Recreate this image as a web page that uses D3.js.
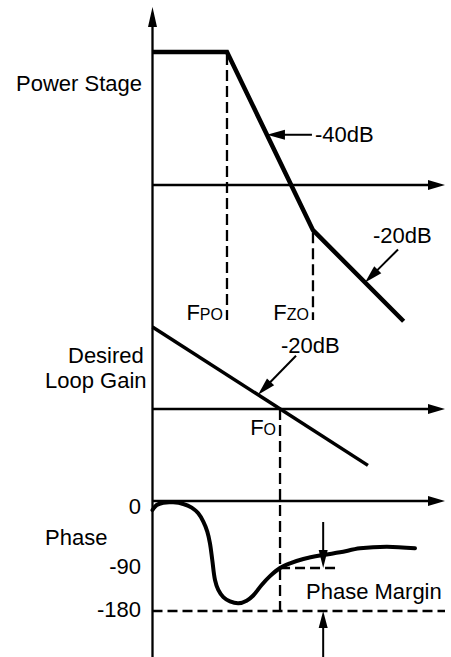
<!DOCTYPE html>
<html>
<head>
<meta charset="utf-8">
<script src="https://cdn.jsdelivr.net/npm/d3@7/dist/d3.min.js"></script>
<style>
  html, body { margin: 0; padding: 0; background: #fff; }
  svg { display: block; }
  text { font-family: "Liberation Sans", Arial, sans-serif; fill: #000; }
</style>
</head>
<body>
<svg id="chart" width="451" height="657"></svg>
<script>
// Frequency axis (log), shared by all three panels
const freqDomain = [1, 5000];

// Power stage magnitude (dB): flat, -40dB/dec after FPO, -20dB/dec after FZO
const powerFreq = [1, 8.75, 107, 1500];
const powerGain = [32.4, 32.4, -11.0, -33.2];

// Desired loop gain (dB): -20dB/dec crossing 0 dB at FO
const loopFreq = [1, 530];
const loopGain = [32.3, -22.2];

// Loop phase (degrees)
const phaseFreq = [1, 1.13, 1.37, 1.83, 2.45, 3.13, 3.79, 4.39, 4.93, 5.33, 5.70, 6.17, 6.79, 7.86,
                   9.55, 12.2, 15.5, 18.8, 24.0, 30.6, 41, 54.8, 80.8, 144, 235, 421, 916, 2086];
const phaseDeg  = [-3, 4.5, 8, 8.5, 6, 0.5, -8, -20.5, -35.5, -53, -78, -115, -136, -151,
                   -160, -164, -158.5, -147.5, -125.5, -107, -90, -83, -76.5, -70.5, -66.5, -60.5, -58, -60.5];

// Corner / crossover frequencies
const cornerFreqs  = [8.75, 107, 41];
const cornerSubs   = ["PO", "ZO", "O"];

// Phase axis ticks
const phaseTicks      = [0, -90, -180];
const phaseTickLabels = ["0", "-90", "-180"];

// Slope callouts: label, frequency where the arrow touches the curve
const slopeLabels = ["-40dB", "-20dB", "-20dB"];
const slopeFreqs  = [28, 487, 21.6];

// Phase margin marker
const pmFreq = 144;
const pmEndFreq = 235;

const svg = d3.select("#chart");

const x = d3.scaleLog().domain(freqDomain).range([152.5, 445]);
const yPow  = d3.scaleLinear().domain([0, 32.4]).range([185, 52]);
const yLoop = d3.scaleLinear().domain([0, 32.3]).range([409, 327]);
const yPh   = d3.scaleLinear().domain([0, -90, -180]).range([508, 568, 611]);
const phaseAxisY = 501;

const FS = 22;

// value on a piecewise (log-frequency) line
function interpLog(fs, vs, f) {
  for (let i = 0; i < fs.length - 1; i++) {
    if (f >= fs[i] && f <= fs[i + 1]) {
      const t = (Math.log(f) - Math.log(fs[i])) / (Math.log(fs[i + 1]) - Math.log(fs[i]));
      return vs[i] + t * (vs[i + 1] - vs[i]);
    }
  }
  return vs[vs.length - 1];
}

// line with filled triangular head at (x2,y2)
function arrow(x1, y1, x2, y2, len, hw, sw) {
  const dx = x2 - x1, dy = y2 - y1, L = Math.hypot(dx, dy);
  const ux = dx / L, uy = dy / L;
  const bx = x2 - ux * len, by = y2 - uy * len;
  svg.append("line")
    .attr("x1", x1).attr("y1", y1)
    .attr("x2", bx + ux * 2).attr("y2", by + uy * 2)
    .attr("stroke", "#000").attr("stroke-width", sw);
  svg.append("path")
    .attr("d", `M${x2},${y2}L${bx - uy * hw},${by + ux * hw}L${bx + uy * hw},${by - ux * hw}Z`)
    .attr("fill", "#000");
}

function dashed(x1, y1, x2, y2, dash) {
  svg.append("line")
    .attr("x1", x1).attr("y1", y1).attr("x2", x2).attr("y2", y2)
    .attr("stroke", "#000").attr("stroke-width", 2.3)
    .attr("stroke-dasharray", dash);
}

// ---- axes ----
arrow(x(1), 657, x(1), 7, 20, 4.5, 2.3);
[yPow(0), yLoop(0), phaseAxisY].forEach(yy => {
  arrow(x(1), yy, x(freqDomain[1]), yy, 17, 5, 2.3);
});

// ---- dashed guides ----
const [fpo, fzo, fo] = cornerFreqs;
dashed(x(fpo), yPow(powerGain[1]) + 2, x(fpo), 320, "11,5");
dashed(x(fzo), yPow(powerGain[2]) + 2, x(fzo), 320, "11,5");
dashed(x(fo), yLoop(0), x(fo), yPh(-180), "11,5");
dashed(x(1), yPh(-180), x(freqDomain[1]), yPh(-180), "10,5");
dashed(x(fo), yPh(-90), x(pmEndFreq), yPh(-90), "10,5");

// ---- curves ----
const powerLine = d3.line().x((d, i) => x(powerFreq[i])).y(d => yPow(d));
svg.append("path").attr("d", powerLine(powerGain))
  .attr("fill", "none").attr("stroke", "#000").attr("stroke-width", 4.5)
  .attr("stroke-linejoin", "miter");

const loopLine = d3.line().x((d, i) => x(loopFreq[i])).y(d => yLoop(d));
svg.append("path").attr("d", loopLine(loopGain))
  .attr("fill", "none").attr("stroke", "#000").attr("stroke-width", 3.5);

const phaseLine = d3.line().x((d, i) => x(phaseFreq[i])).y(d => yPh(d))
  .curve(d3.curveCatmullRom.alpha(0.5));
svg.append("path").attr("d", phaseLine(phaseDeg))
  .attr("fill", "none").attr("stroke", "#000").attr("stroke-width", 4)
  .attr("stroke-linecap", "round");

// ---- slope callouts ----
{
  // -40dB on the power stage
  const tx = x(slopeFreqs[0]), ty = yPow(interpLog(powerFreq, powerGain, slopeFreqs[0]));
  arrow(tx + 45, ty, tx, ty, 18, 5, 2);
  svg.append("text").attr("x", tx + 48).attr("y", ty + 7).attr("font-size", FS).text(slopeLabels[0]);
}
{
  // -20dB on the power stage
  const tx = x(slopeFreqs[1]), ty = yPow(interpLog(powerFreq, powerGain, slopeFreqs[1]));
  arrow(tx + 33, ty - 33, tx, ty, 18, 5, 2);
  svg.append("text").attr("x", tx + 8).attr("y", ty - 39).attr("font-size", FS).text(slopeLabels[1]);
}
{
  // -20dB on the loop gain
  const tx = x(slopeFreqs[2]), ty = yLoop(interpLog(loopFreq, loopGain, slopeFreqs[2]));
  arrow(tx + 38, ty - 39, tx, ty, 18, 5, 2);
  svg.append("text").attr("x", tx + 23).attr("y", ty - 42).attr("font-size", FS).text(slopeLabels[2]);
}

// ---- corner labels ----
const cornerBase = [320, 320, 435];
cornerFreqs.forEach((f, i) => {
  const t = svg.append("text").attr("x", x(f) - 4).attr("y", cornerBase[i])
    .attr("text-anchor", "end").attr("font-size", FS);
  t.append("tspan").text("F");
  t.append("tspan").attr("font-size", 16).text(cornerSubs[i]);
});

// ---- panel titles ----
svg.append("text").attr("x", 16).attr("y", 91).attr("font-size", FS).text("Power Stage");
svg.append("text").attr("x", 68).attr("y", 363).attr("font-size", FS).text("Desired");
svg.append("text").attr("x", 45).attr("y", 388).attr("font-size", FS).text("Loop Gain");
svg.append("text").attr("x", 45).attr("y", 545).attr("font-size", FS).text("Phase");

// ---- phase tick labels ----
phaseTicks.forEach((v, i) => {
  svg.append("text").attr("x", 141).attr("y", yPh(v) + 6)
    .attr("text-anchor", "end").attr("font-size", FS).text(phaseTickLabels[i]);
});

// ---- phase margin ----
arrow(x(pmFreq), 522, x(pmFreq), yPh(-90), 18, 4.5, 2);
arrow(x(pmFreq), 657, x(pmFreq), yPh(-180), 17, 4.5, 2);
svg.append("text").attr("x", 306).attr("y", 599).attr("font-size", FS).text("Phase Margin");
</script>
</body>
</html>
